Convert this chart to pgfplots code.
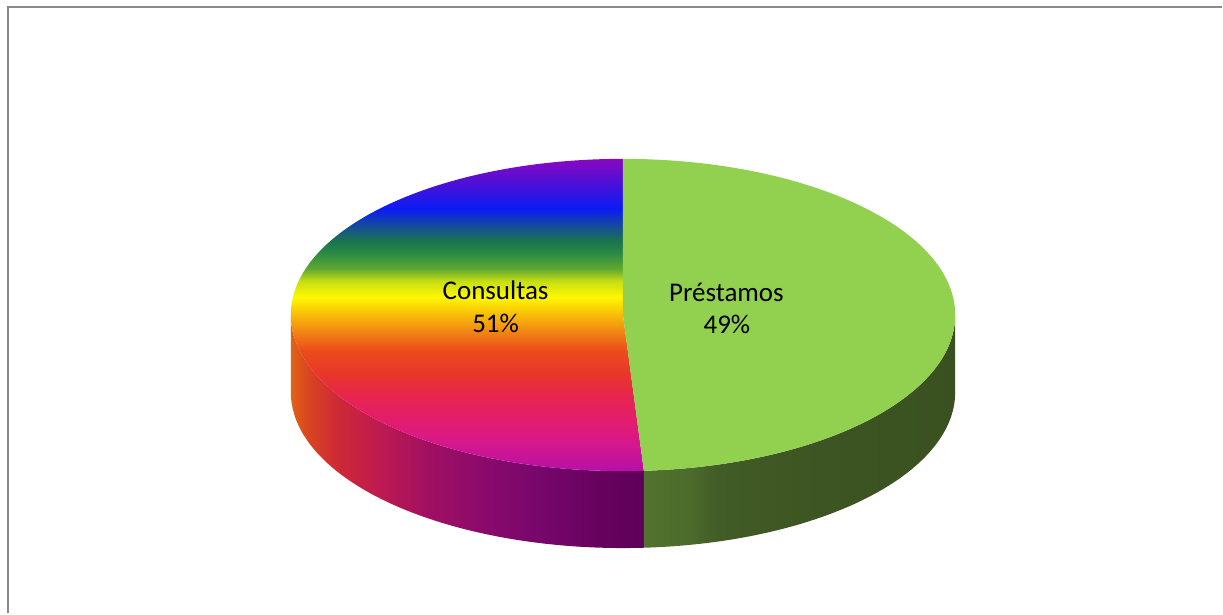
\documentclass[border=0pt]{standalone}
\usepackage{fontspec}
\setmainfont{Carlito}
\usepackage{pgfplots}
\pgfplotsset{compat=1.18}

\definecolor{framegray}{HTML}{8A8A8A}
\definecolor{prestop}{HTML}{92D050}
% Consultas top face (vertical rainbow)
\definecolor{ctA}{HTML}{B410A8}
\definecolor{ctB}{HTML}{D8188A}
\definecolor{ctC}{HTML}{E21C70}
\definecolor{ctD}{HTML}{E62450}
\definecolor{ctE}{HTML}{E83828}
\definecolor{ctF}{HTML}{EC4C1C}
\definecolor{ctG}{HTML}{F07C16}
\definecolor{ctH}{HTML}{F8B80A}
\definecolor{ctI}{HTML}{FFF800}
\definecolor{ctJ}{HTML}{C8DE12}
\definecolor{ctK}{HTML}{60A830}
\definecolor{ctL}{HTML}{2A8A44}
\definecolor{ctM}{HTML}{1A7250}
\definecolor{ctN}{HTML}{1440B0}
\definecolor{ctO}{HTML}{0A1CF4}
\definecolor{ctP}{HTML}{4A10D8}
\definecolor{ctQ}{HTML}{8A08C0}
% Consultas side
\definecolor{csA}{HTML}{E06418}
\definecolor{csB}{HTML}{D84420}
\definecolor{csC}{HTML}{CC2838}
\definecolor{csD}{HTML}{BE1A50}
\definecolor{csE}{HTML}{A01062}
\definecolor{csF}{HTML}{880A6C}
\definecolor{csG}{HTML}{74066A}
\definecolor{csH}{HTML}{66025E}
\definecolor{csI}{HTML}{5E0058}
% Prestamos side
\definecolor{psA}{HTML}{52722F}
\definecolor{psB}{HTML}{4C6C2C}
\definecolor{psC}{HTML}{425C26}
\definecolor{psD}{HTML}{3D5623}
\definecolor{psE}{HTML}{3A5020}

\pgfdeclareverticalshading{constop}{100bp}{color(0bp)=(ctA); color(25bp)=(ctA); color(30bp)=(ctB); color(33bp)=(ctC); color(37bp)=(ctD); color(41bp)=(ctE); color(44.5bp)=(ctF); color(47bp)=(ctG); color(50bp)=(ctH); color(53bp)=(ctI); color(55.5bp)=(ctJ); color(57.5bp)=(ctK); color(60bp)=(ctL); color(62bp)=(ctM); color(65bp)=(ctN); color(67bp)=(ctO); color(71bp)=(ctP); color(75bp)=(ctQ); color(100bp)=(ctQ)}
\pgfdeclarehorizontalshading{consside}{100bp}{color(0bp)=(csA); color(25bp)=(csA); color(27.5bp)=(csB); color(32bp)=(csC); color(37.5bp)=(csD); color(44.5bp)=(csE); color(53bp)=(csF); color(61.5bp)=(csG); color(69bp)=(csH); color(75bp)=(csI); color(100bp)=(csI)}
\pgfdeclarehorizontalshading{presside}{100bp}{color(0bp)=(psA); color(25bp)=(psA); color(32bp)=(psB); color(37bp)=(psC); color(50bp)=(psD); color(75bp)=(psE); color(100bp)=(psE)}

% data
\def\valConsultas{51}
\def\valPrestamos{49}
% geometry (axis units = 1pt)
\def\cx{623.5}
\def\cy{298.75}
\pgfmathsetmacro\splitA{90-360*(\valPrestamos/(\valConsultas+\valPrestamos))}
\pgfmathsetmacro\splitB{\splitA+360}
\pgfmathsetmacro\leftX{\cx-332.5}
\pgfmathsetmacro\rightX{\cx+332.5}
\pgfmathsetmacro\topY{\cy+156.25}
\pgfmathsetmacro\sX{\cx+332.5*cos(\splitB)}
\pgfmathsetmacro\sY{\cy+156.25*sin(\splitB)}
\newcommand\labelfont{\fontsize{27}{33}\selectfont}
\tikzset{pie arc/.style={x radius=332.5pt,y radius=156.25pt}}

\begin{document}
\begin{tikzpicture}
\begin{axis}[x=1pt,y=1pt,xmin=0,xmax=1223,ymin=0,ymax=614,hide axis,clip=false]
\path (axis cs:0,0) rectangle (axis cs:1223,614);
\draw[framegray,line width=2pt,line join=miter] (axis cs:8,0) -- (axis cs:8,606.5) -- (axis cs:1223,606.5);
% sides
\shade[shading=consside] (axis cs:\leftX,\cy)
  arc[start angle=180,end angle=\splitB,pie arc]
  -- ++(0,-77pt)
  arc[start angle=\splitB,end angle=180,pie arc] -- cycle;
\shade[shading=presside] (axis cs:\sX,\sY)
  arc[start angle=\splitB,end angle=360,pie arc]
  -- ++(0,-77pt)
  arc[start angle=360,end angle=\splitB,pie arc] -- cycle;
% tops
\shade[shading=constop] (axis cs:\cx,\cy) -- (axis cs:\cx,\topY)
  arc[start angle=90,end angle=\splitB,pie arc] -- cycle;
\fill[prestop] (axis cs:\cx,\cy) -- (axis cs:\cx,\topY)
  arc[start angle=90,end angle=\splitA,pie arc] -- cycle;
% labels
\node[anchor=base,font=\labelfont] at (axis cs:496,314) {Consultas};
\node[anchor=base,font=\labelfont] at (axis cs:496,281) {51\%};
\node[anchor=base,font=\labelfont] at (axis cs:727,312) {Préstamos};
\node[anchor=base,font=\labelfont] at (axis cs:727.5,280) {49\%};
\end{axis}
\end{tikzpicture}
\end{document}
